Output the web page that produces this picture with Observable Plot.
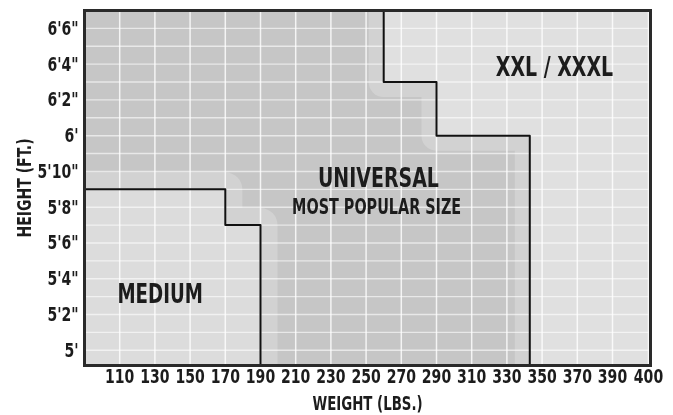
<!DOCTYPE html>
<html><head><meta charset="utf-8">
<script src="https://cdn.jsdelivr.net/npm/d3@7"></script>
<script src="https://cdn.jsdelivr.net/npm/@observablehq/plot@0.6"></script>
<style>
html,body{margin:0;padding:0;background:#fff;}
#chart svg{display:block;}
</style>
</head><body><div id="chart"></div>
<script>
// ---- data ----
const weightTicks = [110,130,150,170,190,210,230,250,270,290,310,330,350,370,390,400];
const heightTicks = [60,62,64,66,68,70,72,74,76,78];
const heightTickLabels = ["5'", "5'2\"", "5'4\"", "5'6\"", "5'8\"", "5'10\"", "6'", "6'2\"", "6'4\"", "6'6\""];
const weightExtent = [90, 402];      // lbs, edges of chart
const heightExtent = [59.15, 79];    // inches, edges of chart
// MEDIUM: step edges (weight) and top heights
const mediumWeight = [90, 170, 190];
const mediumHeight = [69, 67, 67];
// XXL / XXXL: step left edges (weight) and bottom heights
const xxlWeight = [260, 290, 343];
const xxlHeight = [75, 72, 59.15];
// region labels
const regionLabels = ["MEDIUM", "UNIVERSAL", "MOST POPULAR SIZE", "XXL / XXXL"];
const regionLabelWeight = [133, 257, 256, 357];
const regionLabelHeight = [63.1, 69.6, 68.0, 75.8];
const regionLabelSize = [26, 27, 20.5, 27];

// ---- derived tables ----
const [wMin, wMax] = weightExtent;
const [hMin, hMax] = heightExtent;
const mediumArea = mediumWeight.map((w, i) => ({w, h: mediumHeight[i]}));
const mediumLine = [{w: mediumWeight[0], h: mediumHeight[0]}, {w: mediumWeight[1], h: mediumHeight[1]}, {w: mediumWeight[2], h: hMin}];
const xxlArea = xxlWeight.map((w, i) => ({w, h: xxlHeight[i]})).concat([{w: wMax, h: hMin}]);
const xxlLine = [{w: xxlWeight[0], h: hMax}, {w: xxlWeight[1], h: xxlHeight[0]}, {w: xxlWeight[2], h: xxlHeight[1]}, {w: xxlWeight[2], h: hMin}];
const labels = regionLabels.map((t, i) => ({t, w: regionLabelWeight[i], h: regionLabelHeight[i], s: regionLabelSize[i]}));

const FONT = "'Liberation Sans Narrow','Arial Narrow','DejaVu Sans Condensed',sans-serif";
const INK = "#1c1c1c";

const plot = Plot.plot({
  width: 673,
  height: 415,
  marginLeft: 84,
  marginRight: 23,
  marginTop: 10,
  marginBottom: 50,
  style: {fontFamily: FONT, fontWeight: "bold", color: INK, background: "#fff"},
  x: {type: "linear", domain: [90, 390, 400, 402], range: [84, 612, 648, 650]},
  y: {type: "linear", domain: [hMin, hMax], range: [365, 10]},
  marks: [
    Plot.rect([0], {x1: wMin, x2: wMax, y1: hMin, y2: hMax, fill: "#c6c6c6"}),
    Plot.areaY(mediumArea, {x: "w", y1: hMin, y2: "h", curve: "step-after", fill: "#dcdcdc"}),
    Plot.areaY(xxlArea, {x: "w", y1: "h", y2: hMax, curve: "step-after", fill: "#e0e0e0"}),
    // soft lighter halo along the boundaries (inside the universal zone)
    Plot.line(mediumLine, {x: "w", y: "h", curve: "step-after", stroke: "#d2d2d2", strokeWidth: 34, mixBlendMode: "lighten"}),
    Plot.line(xxlLine, {x: "w", y: "h", curve: "step-before", stroke: "#d2d2d2", strokeWidth: 30, mixBlendMode: "lighten"}),
    Plot.ruleY(d3.range(60, 79), {stroke: "#fff", strokeOpacity: 0.6, strokeWidth: 1.4}),
    Plot.ruleX(weightTicks, {stroke: "#fff", strokeOpacity: 0.8, strokeWidth: 1.5}),
    Plot.line(mediumLine, {x: "w", y: "h", curve: "step-after", stroke: "#111", strokeWidth: 2}),
    Plot.line(xxlLine, {x: "w", y: "h", curve: "step-before", stroke: "#111", strokeWidth: 2}),
    Plot.frame({stroke: "#2a2a2a", strokeWidth: 3}),
    Plot.axisX(weightTicks, {tickSize: 0, tickPadding: 3, fontSize: 20, label: null, tickFormat: d => String(d)}),
    Plot.axisY(heightTicks, {tickSize: 0, tickPadding: 6, fontSize: 20, label: null, tickFormat: d => heightTickLabels[heightTicks.indexOf(d)]}),
    Plot.text(labels, {x: "w", y: "h", text: "t", fontSize: d => d.s, fill: INK, fontWeight: "bold"}),
    Plot.text(["WEIGHT (LBS.)"], {frameAnchor: "bottom", dy: 38, lineAnchor: "middle", textAnchor: "middle", fontSize: 19, fill: INK}),
    Plot.text(["HEIGHT (FT.)"], {frameAnchor: "left", dx: -60, rotate: -90, textAnchor: "middle", lineAnchor: "middle", fontSize: 20, fill: INK})
  ]
});
document.getElementById("chart").appendChild(plot);
plot.querySelectorAll("text").forEach(t => {
  const L = t.getComputedTextLength();
  if (L > 0) { t.setAttribute("textLength", (L * 0.78).toFixed(1)); t.setAttribute("lengthAdjust", "spacingAndGlyphs"); }
});
</script>
</body></html>
